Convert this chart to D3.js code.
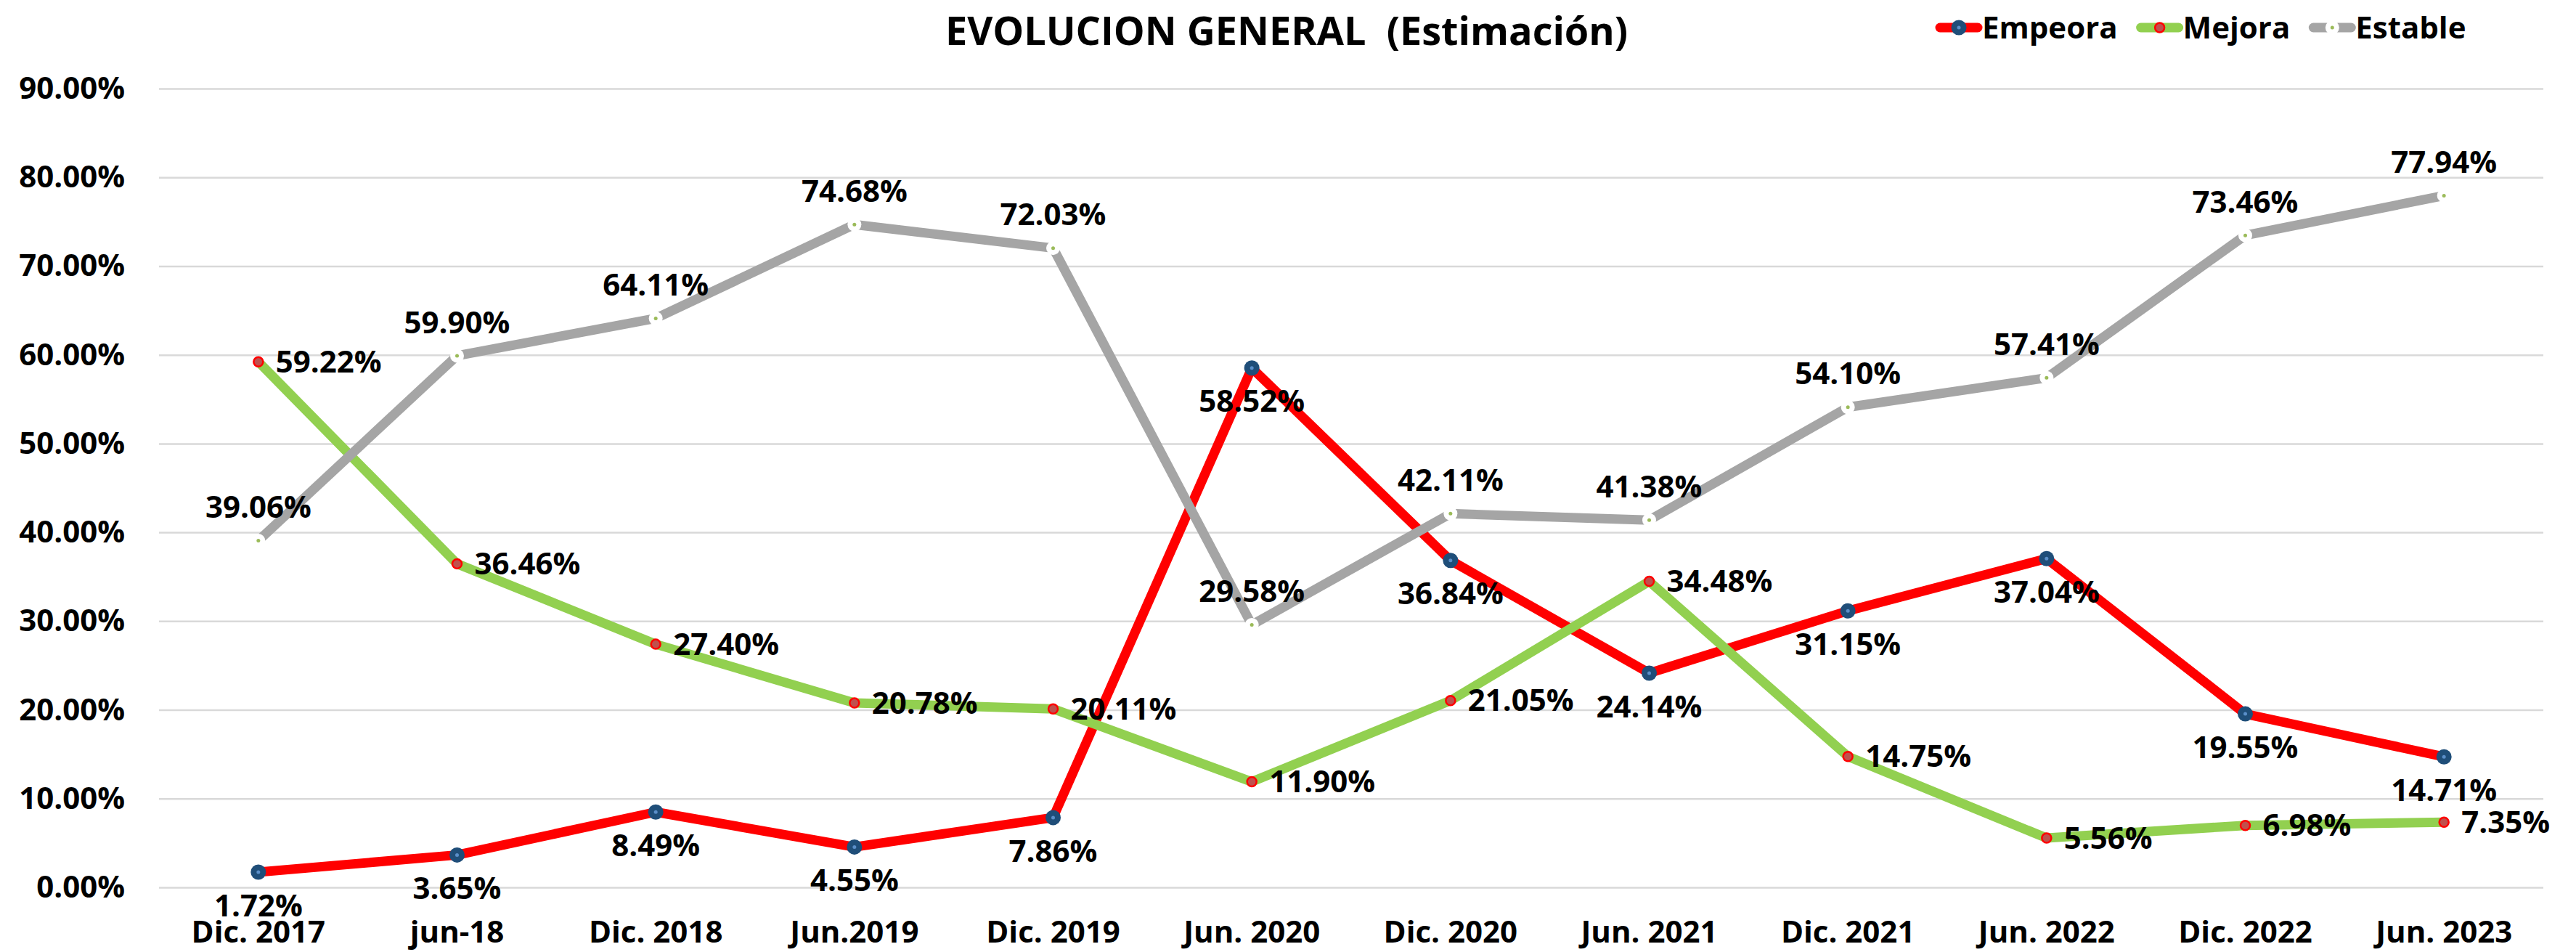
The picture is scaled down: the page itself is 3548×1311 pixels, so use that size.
<!DOCTYPE html>
<html>
<head>
<meta charset="utf-8">
<script src="https://cdn.jsdelivr.net/npm/d3@7"></script>
<style>
  html, body { margin: 0; padding: 0; background: #fff; }
  svg { display: block; font-family: "Open Sans", "Noto Sans", sans-serif; }
</style>
</head>
<body>
<svg id="chart" width="3548" height="1311"></svg>
<script>
const categories = ['Dic. 2017', 'jun-18', 'Dic. 2018', 'Jun.2019', 'Dic. 2019', 'Jun. 2020',
    'Dic. 2020', 'Jun. 2021', 'Dic. 2021', 'Jun. 2022', 'Dic. 2022', 'Jun. 2023'];
const empeora = [0.0172, 0.0365, 0.0849, 0.0455, 0.0786, 0.5852, 0.3684, 0.2414, 0.3115, 0.3704, 0.1955, 0.1471];
const mejora = [0.5922, 0.3646, 0.2740, 0.2078, 0.2011, 0.1190, 0.2105, 0.3448, 0.1475, 0.0556, 0.0698, 0.0735];
const estable = [0.3906, 0.5990, 0.6411, 0.7468, 0.7203, 0.2958, 0.4211, 0.4138, 0.5410, 0.5741, 0.7346, 0.7794];
const yTicks = [0, 0.1, 0.2, 0.3, 0.4, 0.5, 0.6, 0.7, 0.8, 0.9];
const title = 'EVOLUCION GENERAL  (Estimación)';

const series = [
    { name: 'Empeora', values: empeora, color: '#FF0000', label: 'below', marker: 'blue' },
    { name: 'Mejora', values: mejora, color: '#92D050', label: 'right', marker: 'red' },
    { name: 'Estable', values: estable, color: '#A5A5A5', label: 'above', marker: 'white' }
];

const svg = d3.select('#chart');
const plotLeft = 219, plotRight = 3503, plotTop = 122, plotBottom = 1222;
const fontSize = 42;

const x = d3.scaleBand().domain(categories).range([plotLeft, plotRight]);
const y = d3.scaleLinear().domain([0, 0.9]).range([plotBottom, plotTop]);
const cx = c => x(c) + x.bandwidth() / 2;

// y axis with gridlines
const yAxis = svg.append('g')
    .attr('transform', `translate(${plotLeft},0)`)
    .call(d3.axisLeft(y).tickValues(yTicks).tickFormat(d3.format('.2%'))
        .tickSize(-(plotRight - plotLeft)).tickPadding(47));
yAxis.select('.domain').remove();
yAxis.selectAll('.tick line').attr('stroke', '#D9D9D9').attr('stroke-width', 2.5);
yAxis.selectAll('.tick text')
    .attr('font-size', fontSize).attr('font-weight', 'bold').attr('fill', '#000')
    .attr('font-family', '"Open Sans", sans-serif');

// x axis
const xAxis = svg.append('g')
    .attr('transform', `translate(0,${plotBottom})`)
    .call(d3.axisBottom(x).tickSize(0).tickPadding(46));
xAxis.select('.domain').remove();
xAxis.selectAll('.tick text')
    .attr('font-size', fontSize).attr('font-weight', 'bold').attr('fill', '#000')
    .attr('font-family', '"Open Sans", sans-serif');

const line = d3.line()
    .x((d, i) => cx(categories[i]))
    .y(d => y(d));

function drawMarker(g, type, px, py) {
    if (type === 'blue') {
        g.append('circle').attr('cx', px).attr('cy', py).attr('r', 10.5).attr('fill', '#1F4E79');
        g.append('circle').attr('cx', px).attr('cy', py).attr('r', 2.5).attr('fill', '#5B8FC9');
    } else if (type === 'red') {
        g.append('circle').attr('cx', px).attr('cy', py).attr('r', 6.5)
            .attr('fill', '#C0504D').attr('stroke', '#FF0000').attr('stroke-width', 2.5);
    } else {
        g.append('circle').attr('cx', px).attr('cy', py).attr('r', 9.5).attr('fill', '#fff');
        g.append('circle').attr('cx', px).attr('cy', py).attr('r', 2.5).attr('fill', '#9BBB59');
    }
}

series.forEach(s => {
    const g = svg.append('g');
    g.append('path')
        .attr('d', line(s.values))
        .attr('fill', 'none')
        .attr('stroke', s.color)
        .attr('stroke-width', 13)
        .attr('stroke-linejoin', 'round')
        .attr('stroke-linecap', 'round');
    s.values.forEach((v, i) => drawMarker(g, s.marker, cx(categories[i]), y(v)));
});

// data labels
const fmt = d3.format('.2%');
series.forEach(s => {
    svg.append('g').selectAll('text')
        .data(s.values)
        .enter()
        .append('text')
        .attr('x', (d, i) => s.label === 'right' ? cx(categories[i]) + 24 : cx(categories[i]))
        .attr('y', d => s.label === 'below' ? y(d) + 46 : s.label === 'above' ? y(d) - 46 : y(d))
        .attr('dy', '0.35em')
        .attr('text-anchor', s.label === 'right' ? 'start' : 'middle')
        .attr('font-size', fontSize)
        .attr('font-weight', 'bold')
        .attr('fill', '#000')
        .text(d => fmt(d));
});

// title
svg.append('text')
    .attr('x', 1772)
    .attr('y', 62)
    .attr('text-anchor', 'middle')
    .attr('font-size', 54)
    .attr('font-weight', 'bold')
    .style('white-space', 'pre')
    .text(title);

// legend
let lx = 2666;
const ly = 38;
series.forEach(s => {
    const g = svg.append('g');
    g.append('line')
        .attr('x1', lx + 6).attr('x2', lx + 58).attr('y1', ly).attr('y2', ly)
        .attr('stroke', s.color).attr('stroke-width', 13).attr('stroke-linecap', 'round');
    drawMarker(g, s.marker, lx + 32, ly);
    const t = g.append('text')
        .attr('x', lx + 64).attr('y', ly).attr('dy', '0.35em')
        .attr('font-size', fontSize).attr('font-weight', 'bold')
        .text(s.name);
    lx += 64 + t.node().getComputedTextLength() + 26;
});
</script>
</body>
</html>
